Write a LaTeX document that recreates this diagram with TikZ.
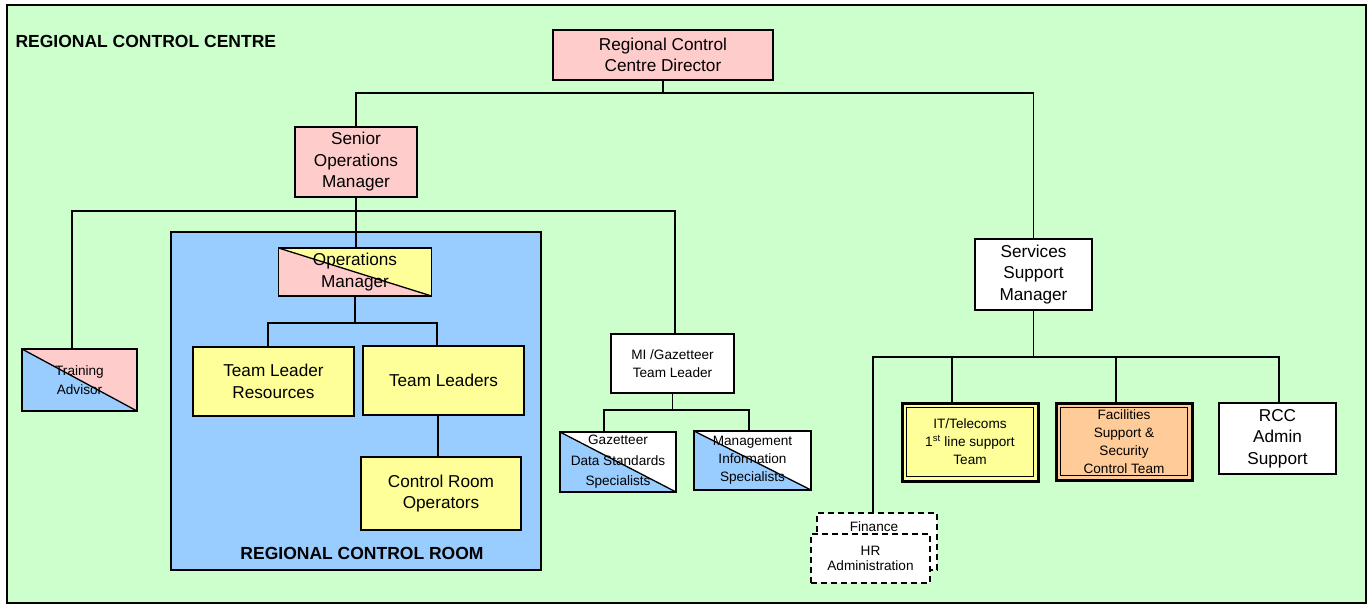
\documentclass[tikz,border=0pt]{standalone}
\usepackage{fontspec}
\setmainfont{Liberation Sans}
\newcommand\fbig{\fontsize{17.2}{21.5}\selectfont}
\newcommand\fsml{\fontsize{13.6}{18}\selectfont}
\newcommand\fbld{\fontsize{17.5}{21}\selectfont\bfseries}
\definecolor{bggreen}{HTML}{CCFFCC}
\definecolor{pinkc}{HTML}{FFCCCC}
\definecolor{yelc}{HTML}{FFFF99}
\definecolor{bluec}{HTML}{99CCFF}
\definecolor{orgc}{HTML}{FFCC99}
\tikzset{
  box/.style={draw=black, line width=1.3pt, inner sep=1pt, align=center, font=\fbig},
  diag/.style 2 args={fill=#1, path picture={
      \fill[#2] (path picture bounding box.north west) -- (path picture bounding box.south east) -- (path picture bounding box.south west) -- cycle;
      \draw[line width=1.3pt] (path picture bounding box.north west) -- (path picture bounding box.south east);}},
  dbox/.style={draw=black, line width=3pt, inner sep=1pt, align=center, font=\fsml,
    path picture={\draw[line width=0.9pt] ([shift={(4.5pt,-4.5pt)}]path picture bounding box.north west) rectangle ([shift={(-4.5pt,4.5pt)}]path picture bounding box.south east);}},
  dashbox/.style={draw=black, line width=1.6pt, dash pattern=on 6pt off 4pt, fill=white, inner sep=1pt, align=center, font={\fontsize{13.6}{15.5}\selectfont}},
  conn/.style={line width=1.9pt},
  room/.style={draw=black, line width=1.3pt, fill=bluec},
  frame/.style={draw=black, line width=1.5pt, fill=bggreen}
}
\begin{document}
\begin{tikzpicture}[x=1pt,y=-1pt]
\useasboundingbox (0,0) rectangle (1371,604);
\node[frame, minimum width=1359, minimum height=598] (frm) at (686.5,304) {};
\node[font=\fbld, anchor=base west] (title) at (12,48) {REGIONAL CONTROL CENTRE};
\node[room, minimum width=370, minimum height=338] (room) at (356,401) {};
\node[font=\fbld, anchor=base] (roomlbl) at (362,559) {REGIONAL CONTROL ROOM};

\node[box, fill=pinkc, minimum width=220, minimum height=50] (dir) at (663,55) {Regional Control\\Centre Director};
\node[box, fill=pinkc, minimum width=122, minimum height=70] (senior) at (356,162) {Senior\\Operations\\Manager};
\node[box, diag={yelc}{pinkc}, minimum width=153, minimum height=48] (ops) at (355,272) {Operations\\Manager};
\node[box, font={\fontsize{13.6}{19}\selectfont}, diag={pinkc}{bluec}, minimum width=115, minimum height=62] (train) at (79.5,380) {Training\\Advisor};
\node[box, fill=yelc, minimum width=161, minimum height=69] (tlr) at (273.5,381.5) {Team Leader\\Resources};
\node[box, fill=yelc, minimum width=161, minimum height=69] (tl) at (443.5,380.5) {Team Leaders};
\node[box, fill=yelc, minimum width=160, minimum height=73] (cro) at (441,493.5) {Control Room\\Operators};
\node[box, font=\fsml, fill=white, minimum width=123, minimum height=59] (mi) at (672.5,363.5) {MI /Gazetteer\\Team Leader};
\node[box, font={\fontsize{13.6}{20.5}\selectfont}, diag={white}{bluec}, minimum width=116, minimum height=60] (gaz) at (618,462) {Gazetteer\\Data Standards\\Specialists};
\node[box, font=\fsml, diag={white}{bluec}, minimum width=117, minimum height=59] (mis) at (752.5,460.5) {Management\\Information\\Specialists};
\node[box, fill=white, minimum width=117, minimum height=71] (ssm) at (1033.5,274.5) {Services\\Support\\Manager};
\node[dbox, fill=yelc, minimum width=136, minimum height=78] (it) at (970,442) {IT/Telecoms\\1\textsuperscript{st} line support\\Team};
\node[dbox, fill=orgc, minimum width=136, minimum height=77] (fac) at (1124,441.5) {Facilities\\Support \&\\Security\\Control Team};
\node[box, fill=white, minimum width=117, minimum height=71] (rcc) at (1277.5,438.5) {RCC\\Admin\\Support};
\node[dashbox, minimum width=120, minimum height=57] (fin) at (877,541.5) {};
\node[font=\fsml, anchor=base] (fintxt) at (874,531) {Finance};
\node[dashbox, minimum width=119, minimum height=49] (hr) at (870.5,558.5) {HR\\Administration};

% connectors
\coordinate (b1) at (663,93);
\draw[conn] (dir.south) -- (b1);
\draw[conn] (senior.north) |- (b1) -| (ssm.north);

\coordinate (b2) at (356,211);
\draw[conn] (senior.south) -- (senior.south |- ops.north);
\draw[conn] ([xshift=-7.5pt]train.north) |- (b2) -| ([xshift=2.5pt]mi.north);

\coordinate (b3) at (355,323);
\draw[conn] (ops.south) -- (b3);
\draw[conn] ([xshift=-5.5pt]tlr.north) |- (b3) -| ([xshift=-6.5pt]tl.north);
\coordinate (t1) at ([xshift=-5.5pt]tl.south);
\draw[conn] (t1) -- (t1 |- cro.north);

\coordinate (b4) at (672.5,410);
\draw[conn] (mi.south) -- (b4);
\draw[conn] ([xshift=-14pt]gaz.north) |- (b4) -| ([xshift=-3.5pt]mis.north);

\coordinate (b5) at (1033.5,357);
\draw[conn] (ssm.south) -- (b5);
\draw[conn] ([xshift=-4pt]fin.north) |- (b5) -| ([xshift=1.5pt]rcc.north);
\draw[conn] ([xshift=-18pt]it.north) -- ++(0,-46);
\draw[conn] ([xshift=-8pt]fac.north) -- ++(0,-46);
\end{tikzpicture}
\end{document}
